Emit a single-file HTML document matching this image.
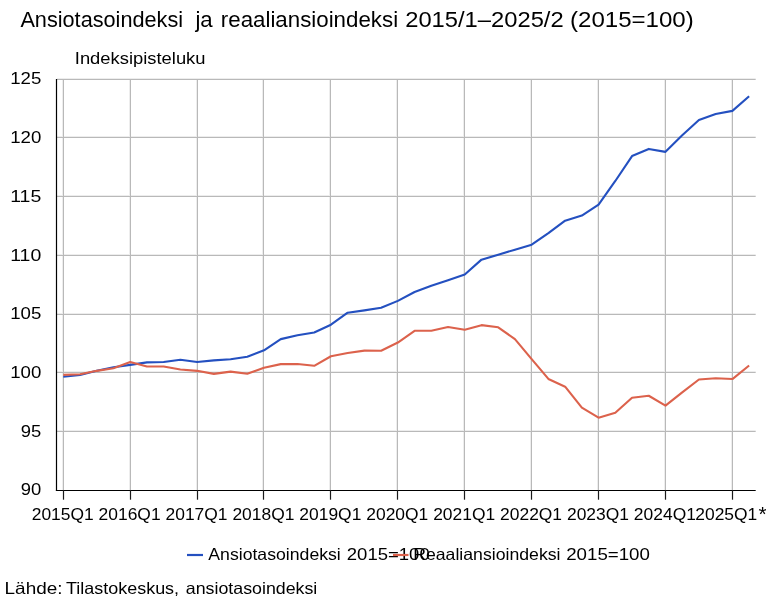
<!DOCTYPE html>
<html><head><meta charset="utf-8"><style>
html,body{margin:0;padding:0;background:#fff;overflow:hidden}
svg{display:block;will-change:transform}
text{font-family:"Liberation Sans",sans-serif}
</style></head><body>
<svg width="766" height="600" viewBox="0 0 766 600">
<rect x="0" y="0" width="766" height="600" fill="#fff"/>
<line x1="731.50" y1="79" x2="731.50" y2="490" stroke="#ededed" stroke-width="1"/>
<line x1="664.50" y1="79" x2="664.50" y2="490" stroke="#ededed" stroke-width="1"/>
<line x1="597.50" y1="79" x2="597.50" y2="490" stroke="#ededed" stroke-width="1"/>
<line x1="530.50" y1="79" x2="530.50" y2="490" stroke="#ededed" stroke-width="1"/>
<line x1="463.50" y1="79" x2="463.50" y2="490" stroke="#ededed" stroke-width="1"/>
<line x1="396.50" y1="79" x2="396.50" y2="490" stroke="#ededed" stroke-width="1"/>
<line x1="329.50" y1="79" x2="329.50" y2="490" stroke="#ededed" stroke-width="1"/>
<line x1="262.50" y1="79" x2="262.50" y2="490" stroke="#ededed" stroke-width="1"/>
<line x1="196.50" y1="79" x2="196.50" y2="490" stroke="#ededed" stroke-width="1"/>
<line x1="129.50" y1="79" x2="129.50" y2="490" stroke="#ededed" stroke-width="1"/>
<line x1="62.50" y1="79" x2="62.50" y2="490" stroke="#ededed" stroke-width="1"/>
<line x1="57" y1="430.5" x2="755.7" y2="430.5" stroke="#ededed" stroke-width="1"/>
<line x1="57" y1="371.5" x2="755.7" y2="371.5" stroke="#ededed" stroke-width="1"/>
<line x1="57" y1="313.5" x2="755.7" y2="313.5" stroke="#ededed" stroke-width="1"/>
<line x1="57" y1="254.5" x2="755.7" y2="254.5" stroke="#ededed" stroke-width="1"/>
<line x1="57" y1="195.5" x2="755.7" y2="195.5" stroke="#ededed" stroke-width="1"/>
<line x1="57" y1="136.5" x2="755.7" y2="136.5" stroke="#ededed" stroke-width="1"/>
<line x1="57" y1="78.5" x2="755.7" y2="78.5" stroke="#ededed" stroke-width="1"/>
<line x1="57" y1="79.5" x2="755.7" y2="79.5" stroke="#b9b9b9" stroke-width="1"/>
<line x1="57" y1="137.5" x2="755.7" y2="137.5" stroke="#b9b9b9" stroke-width="1"/>
<line x1="57" y1="196.5" x2="755.7" y2="196.5" stroke="#b9b9b9" stroke-width="1"/>
<line x1="57" y1="255.5" x2="755.7" y2="255.5" stroke="#b9b9b9" stroke-width="1"/>
<line x1="57" y1="314.5" x2="755.7" y2="314.5" stroke="#b9b9b9" stroke-width="1"/>
<line x1="57" y1="372.5" x2="755.7" y2="372.5" stroke="#b9b9b9" stroke-width="1"/>
<line x1="57" y1="431.5" x2="755.7" y2="431.5" stroke="#b9b9b9" stroke-width="1"/>
<line x1="63.50" y1="79" x2="63.50" y2="490" stroke="#b9b9b9" stroke-width="1"/>
<line x1="130.50" y1="79" x2="130.50" y2="490" stroke="#b9b9b9" stroke-width="1"/>
<line x1="197.50" y1="79" x2="197.50" y2="490" stroke="#b9b9b9" stroke-width="1"/>
<line x1="263.50" y1="79" x2="263.50" y2="490" stroke="#b9b9b9" stroke-width="1"/>
<line x1="330.50" y1="79" x2="330.50" y2="490" stroke="#b9b9b9" stroke-width="1"/>
<line x1="397.50" y1="79" x2="397.50" y2="490" stroke="#b9b9b9" stroke-width="1"/>
<line x1="464.50" y1="79" x2="464.50" y2="490" stroke="#b9b9b9" stroke-width="1"/>
<line x1="531.50" y1="79" x2="531.50" y2="490" stroke="#b9b9b9" stroke-width="1"/>
<line x1="598.50" y1="79" x2="598.50" y2="490" stroke="#b9b9b9" stroke-width="1"/>
<line x1="665.50" y1="79" x2="665.50" y2="490" stroke="#b9b9b9" stroke-width="1"/>
<line x1="732.50" y1="79" x2="732.50" y2="490" stroke="#b9b9b9" stroke-width="1"/>
<line x1="56.5" y1="79" x2="56.5" y2="491" stroke="#000" stroke-width="1.2"/>
<line x1="55.9" y1="490.5" x2="755.7" y2="490.5" stroke="#000" stroke-width="1.2"/>
<line x1="63.50" y1="490" x2="63.50" y2="499.7" stroke="#1a1a1a" stroke-width="1.2"/>
<line x1="130.50" y1="490" x2="130.50" y2="499.7" stroke="#1a1a1a" stroke-width="1.2"/>
<line x1="197.50" y1="490" x2="197.50" y2="499.7" stroke="#1a1a1a" stroke-width="1.2"/>
<line x1="263.50" y1="490" x2="263.50" y2="499.7" stroke="#1a1a1a" stroke-width="1.2"/>
<line x1="330.50" y1="490" x2="330.50" y2="499.7" stroke="#1a1a1a" stroke-width="1.2"/>
<line x1="397.50" y1="490" x2="397.50" y2="499.7" stroke="#1a1a1a" stroke-width="1.2"/>
<line x1="464.50" y1="490" x2="464.50" y2="499.7" stroke="#1a1a1a" stroke-width="1.2"/>
<line x1="531.50" y1="490" x2="531.50" y2="499.7" stroke="#1a1a1a" stroke-width="1.2"/>
<line x1="598.50" y1="490" x2="598.50" y2="499.7" stroke="#1a1a1a" stroke-width="1.2"/>
<line x1="665.50" y1="490" x2="665.50" y2="499.7" stroke="#1a1a1a" stroke-width="1.2"/>
<line x1="732.50" y1="490" x2="732.50" y2="499.7" stroke="#1a1a1a" stroke-width="1.2"/>
<polyline points="63.30,376.83 80.03,374.95 96.75,370.84 113.48,367.20 130.21,364.85 146.94,362.38 163.66,362.03 180.39,359.68 197.12,362.03 213.85,360.39 230.57,359.21 247.30,356.75 264.03,350.29 280.76,339.14 297.49,335.26 314.21,332.56 330.94,324.69 347.67,312.72 364.39,310.37 381.12,307.78 397.85,300.86 414.58,292.05 431.31,285.83 448.03,280.31 464.76,274.44 481.49,259.64 498.21,254.71 514.94,249.66 531.67,244.73 548.40,233.11 565.12,220.66 581.85,215.61 598.58,204.57 615.31,180.97 632.03,156.08 648.76,148.91 665.49,151.85 682.22,135.29 698.94,120.03 715.67,113.92 732.40,110.87 749.13,96.19" fill="none" stroke="#2450c0" stroke-width="2.1" stroke-linejoin="round"/>
<polyline points="63.30,374.83 80.03,374.24 96.75,370.84 113.48,368.26 130.21,362.03 146.94,366.49 163.66,366.49 180.39,369.43 197.12,370.84 213.85,373.89 230.57,371.66 247.30,373.77 264.03,367.79 280.76,364.15 297.49,364.03 314.21,365.79 330.94,356.28 347.67,352.99 364.39,350.64 381.12,350.76 397.85,342.54 414.58,330.80 431.31,330.80 448.03,327.04 464.76,329.74 481.49,325.16 498.21,327.28 514.94,339.14 531.67,359.10 548.40,378.94 565.12,386.69 581.85,407.71 598.58,417.69 615.31,412.76 632.03,397.73 648.76,395.73 665.49,405.60 682.22,392.33 698.94,379.53 715.67,378.24 732.40,379.06 749.13,365.55" fill="none" stroke="#dc624c" stroke-width="2.1" stroke-linejoin="round"/>
<text x="20.4" y="26.8" font-size="21.5" text-anchor="start" fill="#000" textLength="162.7" lengthAdjust="spacingAndGlyphs">Ansiotasoindeksi</text>
<text x="195.4" y="26.8" font-size="21.5" text-anchor="start" fill="#000" textLength="17.3" lengthAdjust="spacingAndGlyphs">ja</text>
<text x="220.8" y="26.8" font-size="21.5" text-anchor="start" fill="#000" textLength="177.3" lengthAdjust="spacingAndGlyphs">reaaliansioindeksi</text>
<text x="405.2" y="26.8" font-size="21.5" text-anchor="start" fill="#000" textLength="158.5" lengthAdjust="spacingAndGlyphs">2015/1–2025/2</text>
<text x="570.0" y="26.8" font-size="21.5" text-anchor="start" fill="#000" textLength="123.7" lengthAdjust="spacingAndGlyphs">(2015=100)</text>
<text x="74.8" y="64.2" font-size="16.5" text-anchor="start" fill="#000" textLength="130.7" lengthAdjust="spacingAndGlyphs">Indeksipisteluku</text>
<text x="41.3" y="495" font-size="16.5" text-anchor="end" fill="#000" textLength="20.5" lengthAdjust="spacingAndGlyphs">90</text>
<text x="41.3" y="437" font-size="16.5" text-anchor="end" fill="#000" textLength="20.5" lengthAdjust="spacingAndGlyphs">95</text>
<text x="41.3" y="378" font-size="16.5" text-anchor="end" fill="#000" textLength="31.1" lengthAdjust="spacingAndGlyphs">100</text>
<text x="41.3" y="319" font-size="16.5" text-anchor="end" fill="#000" textLength="31.1" lengthAdjust="spacingAndGlyphs">105</text>
<text x="41.3" y="261" font-size="16.5" text-anchor="end" fill="#000" textLength="31.1" lengthAdjust="spacingAndGlyphs">110</text>
<text x="41.3" y="202" font-size="16.5" text-anchor="end" fill="#000" textLength="31.1" lengthAdjust="spacingAndGlyphs">115</text>
<text x="41.3" y="143" font-size="16.5" text-anchor="end" fill="#000" textLength="31.1" lengthAdjust="spacingAndGlyphs">120</text>
<text x="41.3" y="84" font-size="16.5" text-anchor="end" fill="#000" textLength="31.1" lengthAdjust="spacingAndGlyphs">125</text>
<text x="31.7" y="519.7" font-size="16.5" text-anchor="start" fill="#000" textLength="62.0" lengthAdjust="spacingAndGlyphs">2015Q1</text>
<text x="98.61" y="519.7" font-size="16.5" text-anchor="start" fill="#000" textLength="62.0" lengthAdjust="spacingAndGlyphs">2016Q1</text>
<text x="165.52" y="519.7" font-size="16.5" text-anchor="start" fill="#000" textLength="62.0" lengthAdjust="spacingAndGlyphs">2017Q1</text>
<text x="232.43" y="519.7" font-size="16.5" text-anchor="start" fill="#000" textLength="62.0" lengthAdjust="spacingAndGlyphs">2018Q1</text>
<text x="299.34" y="519.7" font-size="16.5" text-anchor="start" fill="#000" textLength="62.0" lengthAdjust="spacingAndGlyphs">2019Q1</text>
<text x="366.25" y="519.7" font-size="16.5" text-anchor="start" fill="#000" textLength="62.0" lengthAdjust="spacingAndGlyphs">2020Q1</text>
<text x="433.16" y="519.7" font-size="16.5" text-anchor="start" fill="#000" textLength="62.0" lengthAdjust="spacingAndGlyphs">2021Q1</text>
<text x="500.07" y="519.7" font-size="16.5" text-anchor="start" fill="#000" textLength="62.0" lengthAdjust="spacingAndGlyphs">2022Q1</text>
<text x="566.98" y="519.7" font-size="16.5" text-anchor="start" fill="#000" textLength="62.0" lengthAdjust="spacingAndGlyphs">2023Q1</text>
<text x="633.89" y="519.7" font-size="16.5" text-anchor="start" fill="#000" textLength="62.0" lengthAdjust="spacingAndGlyphs">2024Q1</text>
<text x="695.3" y="519.7" font-size="16.5" text-anchor="start" fill="#000" textLength="62.0" lengthAdjust="spacingAndGlyphs">2025Q1</text>
<text x="758.4" y="520.6" font-size="21" text-anchor="start" fill="#000">*</text>
<line x1="187" y1="555" x2="203" y2="555" stroke="#2450c0" stroke-width="2.2"/>
<text x="208.3" y="559.8" font-size="16.5" text-anchor="start" fill="#000" textLength="132.5" lengthAdjust="spacingAndGlyphs">Ansiotasoindeksi</text>
<text x="346.8" y="559.8" font-size="16.5" text-anchor="start" fill="#000" textLength="82.9" lengthAdjust="spacingAndGlyphs">2015=100</text>
<line x1="393" y1="555" x2="408.5" y2="555" stroke="#dc624c" stroke-width="2.2"/>
<text x="413.2" y="559.8" font-size="16.5" text-anchor="start" fill="#000" textLength="147.3" lengthAdjust="spacingAndGlyphs">Reaaliansioindeksi</text>
<text x="566.2" y="559.8" font-size="16.5" text-anchor="start" fill="#000" textLength="83.7" lengthAdjust="spacingAndGlyphs">2015=100</text>
<text x="4.6" y="594.3" font-size="16.5" text-anchor="start" fill="#000" textLength="57.9" lengthAdjust="spacingAndGlyphs">Lähde:</text>
<text x="66.0" y="594.3" font-size="16.5" text-anchor="start" fill="#000" textLength="113.1" lengthAdjust="spacingAndGlyphs">Tilastokeskus,</text>
<text x="185.8" y="594.3" font-size="16.5" text-anchor="start" fill="#000" textLength="131.5" lengthAdjust="spacingAndGlyphs">ansiotasoindeksi</text>
</svg>
</body></html>
